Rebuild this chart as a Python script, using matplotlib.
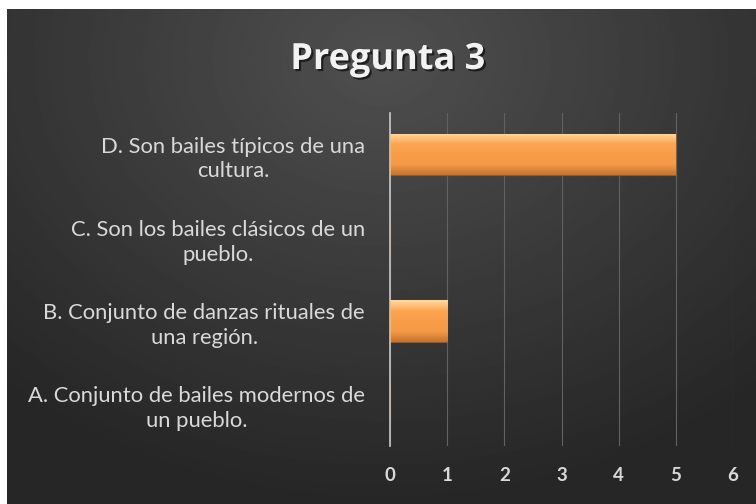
import numpy as np
import matplotlib.pyplot as plt
import matplotlib.patheffects as pe
from matplotlib.colors import LinearSegmentedColormap

plt.rcParams['font.family'] = ['Lato', 'DejaVu Sans']

categories = ["A. Conjunto de bailes modernos de\nun pueblo.",
              "B. Conjunto de danzas rituales de\nuna región.",
              "C. Son los bailes clásicos de un\npueblo.",
              "D. Son bailes típicos de una\ncultura."]
values = [0, 1, 0, 5]
xticks = [0, 1, 2, 3, 4, 5, 6]

fig = plt.figure(figsize=(7.56, 5.04), dpi=100)
fig.patch.set_facecolor('white')

# dark panel with radial gradient
bg = fig.add_axes([7/756, 0, 1 - 7/756, 1 - 9/504])
bg.set_axis_off()
yy, xx = np.mgrid[0:1:300j, 0:1:450j]
r = np.sqrt(((xx - 0.5) / 0.75) ** 2 + ((yy - 0.1) / 0.9) ** 2)
shade = 0.31 - 0.16 * np.clip(r, 0, 1)
bg.imshow(shade, cmap='gray', vmin=0, vmax=1, aspect='auto',
          extent=[0, 1, 1, 0], interpolation='bilinear')
bg.set_xlim(0, 1)
bg.set_ylim(1, 0)

ax = fig.add_axes([390/756, 1 - 446/504, 343/756, 333/504])
ax.patch.set_alpha(0)
bars = ax.barh(range(len(values)), values, height=0.5, color='#F9A04E',
               edgecolor='#9a5a1c', linewidth=0.8, zorder=3)

# bevel-like vertical gradient on each bar
grad = np.linspace(0, 1, 50).reshape(-1, 1)
cm = LinearSegmentedColormap.from_list('o', ['#FFD9A0', '#FBA552', '#F99D48', '#F59A46', '#C8742E'])
for b in bars:
    if b.get_width() == 0:
        continue
    x0, y0 = b.get_x(), b.get_y()
    w, h = b.get_width(), b.get_height()
    im = ax.imshow(grad, cmap=cm, aspect='auto', extent=[x0, x0 + w, y0, y0 + h],
                   origin='upper', zorder=4, interpolation='bilinear')
    im.set_clip_path(b)

ax.set_xlim(0, 6)
ax.set_ylim(-0.5, 3.5)
ax.set_xticks(xticks)
ax.set_xticklabels([str(t) for t in xticks])
ax.set_yticks(range(len(categories)))
ax.set_yticklabels(categories)
for lab in ax.get_yticklabels():
    lab.set_multialignment('center')
    lab.set_linespacing(1.3)
ax.tick_params(axis='y', length=0, pad=18, labelsize=15.8, labelcolor='#D9D9D9')
ax.tick_params(axis='x', length=0, pad=15, labelsize=13.5, labelcolor='#D9D9D9')
for lab in ax.get_xticklabels():
    lab.set_fontweight('bold')
ax.grid(axis='x', color='#626262', linewidth=0.8, zorder=0)
for s in ['top', 'right', 'bottom']:
    ax.spines[s].set_visible(False)
ax.spines['left'].set_color('#C8C8C8')
ax.spines['left'].set_linewidth(1.2)
ax.spines['left'].set_zorder(5)

fig.text(388/756, 1 - 69/504, "Pregunta 3", ha='center', va='baseline',
         fontsize=26, fontweight='bold', color='#F2F2F2', family=['Open Sans', 'DejaVu Sans'],
         path_effects=[pe.withSimplePatchShadow(offset=(1.5, -1.5), shadow_rgbFace='black', alpha=0.6)])

fig.savefig('out.png', dpi=100, facecolor=fig.get_facecolor())
